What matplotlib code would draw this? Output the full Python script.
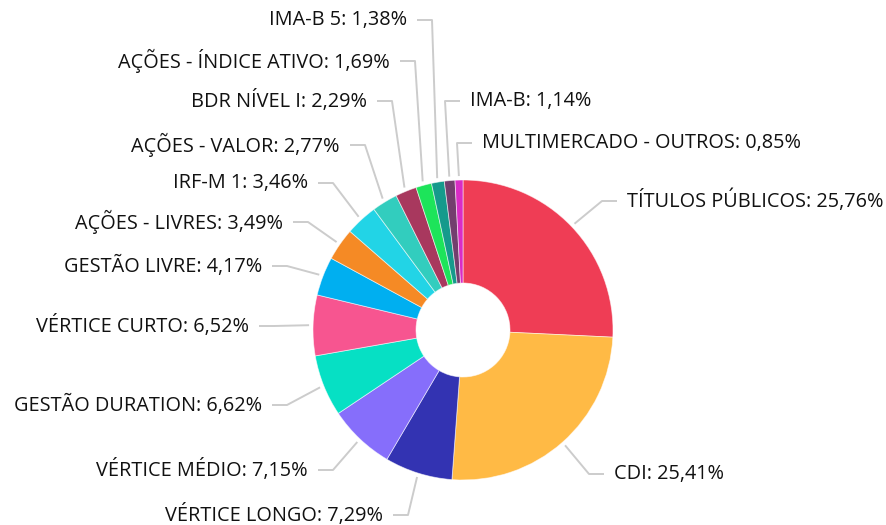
import numpy as np
import matplotlib
matplotlib.use("Agg")
import matplotlib.pyplot as plt

# data, clockwise from the top
labels = ["TÍTULOS PÚBLICOS", "CDI", "VÉRTICE LONGO", "VÉRTICE MÉDIO",
          "GESTÃO DURATION", "VÉRTICE CURTO", "GESTÃO LIVRE", "AÇÕES - LIVRES",
          "IRF-M 1", "AÇÕES - VALOR", "BDR NÍVEL I", "AÇÕES - ÍNDICE ATIVO",
          "IMA-B 5", "IMA-B", "MULTIMERCADO - OUTROS"]
values = [25.76, 25.41, 7.29, 7.15, 6.62, 6.52, 4.17, 3.49,
          3.46, 2.77, 2.29, 1.69, 1.38, 1.14, 0.85]
colors = ["#EF3D55", "#FFBA45", "#3333B2", "#866EFB", "#06E0C4", "#F75590",
          "#00AFF0", "#F58A25", "#22D4E6", "#32CDBE", "#A8385E", "#1DE45A",
          "#159A8C", "#733E6E", "#D92CC5"]

# label placement (pixels from top-left): text anchor x, y and side
label_x = [627, 614, 383, 308, 262, 249, 262, 283, 308, 340, 367, 390, 407, 470, 482]
label_y = [201, 474, 515, 470, 405, 326, 266, 222, 183, 145, 101, 61, 20, 101, 143]
label_side = ["R", "R", "L", "L", "L", "L", "L", "L", "L", "L", "L", "L", "L", "R", "R"]

W, H = 887, 525
CX, CY = 463, 330          # pie centre in pixels (from top)
R, R_IN = 150, 47

plt.rcParams['font.family'] = ['Open Sans', 'DejaVu Sans']

fig = plt.figure(figsize=(W / 100, H / 100), dpi=100)
ax = fig.add_axes([0, 0, 1, 1])
ax.set_xlim(0, W)
ax.set_ylim(H, 0)
ax.axis("off")

# pie drawn in an inverted-y axis: counterclock=True appears clockwise on screen
wedges, _ = ax.pie(values, colors=colors, startangle=-90, counterclock=True,
                   center=(CX, CY), radius=R,
                   wedgeprops=dict(width=R - R_IN, edgecolor=(1, 1, 1, 0.6), linewidth=0.6))
ax.set_xlim(0, W)
ax.set_ylim(H, 0)
ax.set_aspect("equal")

for w, lab, v, lx, ly, side in zip(wedges, labels, values, label_x, label_y, label_side):
    ang = np.deg2rad((w.theta1 + w.theta2) / 2)
    sx = CX + (R + 4) * np.cos(ang)
    sy = CY + (R + 4) * np.sin(ang)
    txt = f"{lab}: {v:.2f}%".replace(".", ",")
    if side == "L":
        x_end = lx + 10
        x_elb = lx + 25
        ha = "right"
    else:
        x_end = lx - 10
        x_elb = lx - 25
        ha = "left"
    ax.plot([sx, x_elb, x_end], [sy, ly, ly], color="#CCCCCC", lw=1.4,
            solid_capstyle="butt", zorder=1)
    ax.text(lx, ly, txt, ha=ha, va="center", fontsize=14.3, color="#111111")

fig.savefig("out.png", dpi=100)
